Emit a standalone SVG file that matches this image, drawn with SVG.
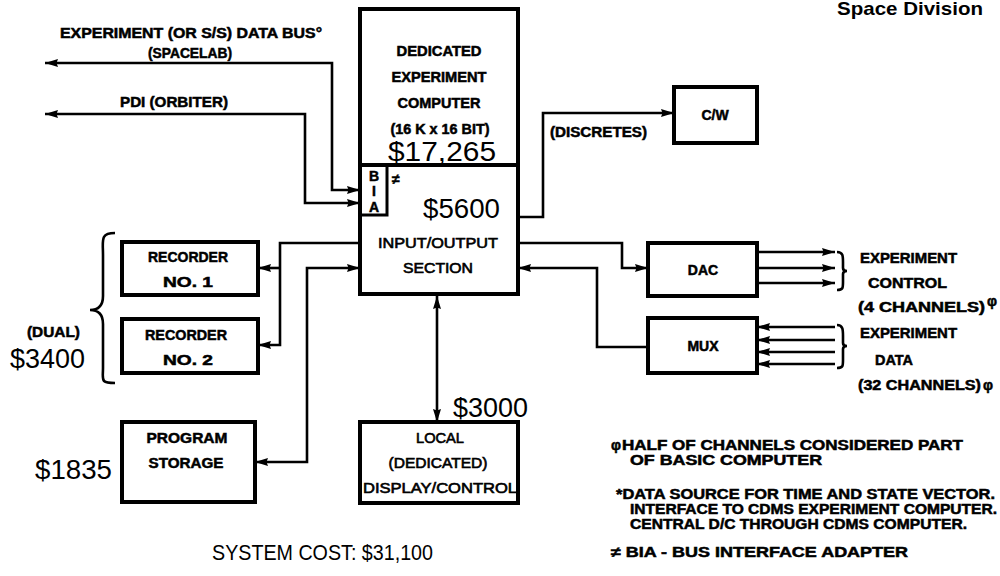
<svg xmlns="http://www.w3.org/2000/svg" width="1000" height="576" viewBox="0 0 1000 576">
<style>
.box{fill:#fff;stroke:#000;stroke-width:4}
.ln{fill:none;stroke:#000;stroke-width:2.6}
.b{font-family:"Liberation Sans",Arial,sans-serif;font-weight:bold;font-size:14px;fill:#000;stroke:#000;stroke-width:0.5}
.m{font-family:"Liberation Sans",Arial,sans-serif;font-weight:normal;font-size:14px;fill:#000;stroke:#000;stroke-width:0.6}
.big{font-family:"Liberation Sans",Arial,sans-serif;font-weight:normal;font-size:28px;fill:#000}
.c{text-anchor:middle}
</style>
<defs>
<marker id="ah" viewBox="0 0 14 10" refX="13" refY="5" markerWidth="14" markerHeight="10" markerUnits="userSpaceOnUse" orient="auto-start-reverse">
<path d="M0,1 L13,5 L0,9 L1.5,5 Z" fill="#000"/>
</marker>
</defs>

<text x="837" y="15" font-family="Liberation Sans,Arial,sans-serif" font-weight="bold" font-size="19" textLength="146" lengthAdjust="spacingAndGlyphs">Space Division</text>

<g id="connectors">
<path class="ln" d="M45,63 H332 V190 H360" marker-start="url(#ah)" marker-end="url(#ah)"/>
<path class="ln" d="M45,114 H305 V203 H360" marker-start="url(#ah)" marker-end="url(#ah)"/>
<path class="ln" d="M258,268 H280" marker-start="url(#ah)"/>
<path class="ln" d="M258,345 H280 V243 H360" marker-start="url(#ah)"/>
<path class="ln" d="M255,462 H307 V268 H360" marker-start="url(#ah)" marker-end="url(#ah)"/>
<path class="ln" d="M437,296 V422" marker-start="url(#ah)" marker-end="url(#ah)"/>
<path class="ln" d="M518,217 H543 V113 H674" marker-end="url(#ah)"/>
<path class="ln" d="M518,243 H622 V268 H648" marker-end="url(#ah)"/>
<path class="ln" d="M648,347 H597 V268 H518" marker-end="url(#ah)"/>
<path class="ln" d="M757,252 H835" marker-end="url(#ah)"/>
<path class="ln" d="M757,268 H835" marker-end="url(#ah)"/>
<path class="ln" d="M757,283 H835" marker-end="url(#ah)"/>
<path class="ln" d="M835,327 H757" marker-end="url(#ah)"/>
<path class="ln" d="M835,340 H757" marker-end="url(#ah)"/>
<path class="ln" d="M835,352 H757" marker-end="url(#ah)"/>
<path class="ln" d="M835,364 H757" marker-end="url(#ah)"/>
</g>

<g id="bus-labels">
<text class="b" x="60" y="38" textLength="262" lengthAdjust="spacingAndGlyphs">EXPERIMENT (OR S/S) DATA BUS°</text>
<text class="b" x="148" y="58" textLength="84" lengthAdjust="spacingAndGlyphs">(SPACELAB)</text>
<text class="b" x="120" y="107" textLength="108" lengthAdjust="spacingAndGlyphs">PDI (ORBITER)</text>
<text class="b" x="550" y="137" textLength="97" lengthAdjust="spacingAndGlyphs">(DISCRETES)</text>
</g>

<g id="computer">
<rect class="box" x="360" y="9" width="158" height="156"/>
<text class="b c" x="439" y="56" textLength="85" lengthAdjust="spacingAndGlyphs">DEDICATED</text>
<text class="b c" x="439" y="82" textLength="95" lengthAdjust="spacingAndGlyphs">EXPERIMENT</text>
<text class="b c" x="439" y="108" textLength="83" lengthAdjust="spacingAndGlyphs">COMPUTER</text>
<text class="b c" x="440" y="134" textLength="99" lengthAdjust="spacingAndGlyphs">(16 K x 16 BIT)</text>
<text class="big c" x="442" y="161" textLength="108" lengthAdjust="spacingAndGlyphs">$17,265</text>
</g>

<g id="io-section">
<rect class="box" x="360" y="165" width="158" height="129"/>
<text class="big" x="423" y="218" textLength="77" lengthAdjust="spacingAndGlyphs">$5600</text>
<text class="m c" x="438" y="248" font-size="15" textLength="120" lengthAdjust="spacingAndGlyphs">INPUT/OUTPUT</text>
<text class="m c" x="438" y="273" font-size="15" textLength="70" lengthAdjust="spacingAndGlyphs">SECTION</text>
</g>

<g id="bia">
<rect x="360" y="165" width="27" height="50" fill="none" stroke="#000" stroke-width="3"/>
<text class="b c" x="374" y="181" font-size="12">B</text>
<text class="b c" x="374" y="196" font-size="12">I</text>
<text class="b c" x="374" y="212" font-size="12">A</text>
<text class="b" x="392" y="184" font-size="15">≠</text>
</g>

<g id="cw">
<rect class="box" x="674" y="87" width="83" height="56"/>
<text class="b c" x="715" y="120">C/W</text>
</g>

<g id="dac">
<rect class="box" x="648" y="243" width="109" height="53"/>
<text class="b c" x="703" y="275">DAC</text>
</g>

<g id="mux">
<rect class="box" x="648" y="318" width="109" height="55"/>
<text class="b c" x="703" y="351">MUX</text>
</g>

<g id="recorder1">
<rect class="box" x="122" y="242" width="136" height="53"/>
<text class="b c" x="188" y="262" textLength="80" lengthAdjust="spacingAndGlyphs">RECORDER</text>
<text class="b c" x="188" y="287" textLength="50" lengthAdjust="spacingAndGlyphs">NO. 1</text>
</g>

<g id="recorder2">
<rect class="box" x="122" y="319" width="136" height="54"/>
<text class="b c" x="186" y="340" textLength="82" lengthAdjust="spacingAndGlyphs">RECORDER</text>
<text class="b c" x="188" y="365" textLength="50" lengthAdjust="spacingAndGlyphs">NO. 2</text>
</g>

<g id="recorder-cost">
<path d="M115,233 C100,233 103,240 103,255 L103,296 C103,306 98,310 90,310 C98,310 103,314 103,324 L103,368 C103,380 100,383 115,383" fill="none" stroke="#000" stroke-width="2.6"/>
<text class="b" x="27" y="337" textLength="53" lengthAdjust="spacingAndGlyphs">(DUAL)</text>
<text class="big" x="10" y="368" textLength="75" lengthAdjust="spacingAndGlyphs">$3400</text>
</g>

<g id="program-storage">
<rect class="box" x="122" y="422" width="133" height="80"/>
<text class="b c" x="187" y="443" textLength="81" lengthAdjust="spacingAndGlyphs">PROGRAM</text>
<text class="b c" x="186" y="468" textLength="75" lengthAdjust="spacingAndGlyphs">STORAGE</text>
<text class="big" x="35" y="479" textLength="77" lengthAdjust="spacingAndGlyphs">$1835</text>
</g>

<g id="local-display">
<rect class="box" x="360" y="422" width="158" height="81"/>
<text class="m c" x="440" y="443" textLength="48" lengthAdjust="spacingAndGlyphs">LOCAL</text>
<text class="m c" x="438" y="468" textLength="99" lengthAdjust="spacingAndGlyphs">(DEDICATED)</text>
<text class="m c" x="440" y="493" textLength="154" lengthAdjust="spacingAndGlyphs">DISPLAY/CONTROL</text>
<text class="big" x="453" y="417" textLength="75" lengthAdjust="spacingAndGlyphs">$3000</text>
</g>

<g id="control-labels">
<path d="M837,252 C843,252 843,256 843,262 L843,268 C843,270 845,271 847,271 C845,271 843,272 843,274 L843,282 C843,288 843,290 837,290" fill="none" stroke="#000" stroke-width="2.6"/>
<text class="b" x="860" y="263" textLength="97" lengthAdjust="spacingAndGlyphs">EXPERIMENT</text>
<text class="b" x="868" y="288" textLength="79" lengthAdjust="spacingAndGlyphs">CONTROL</text>
<text class="b" x="858" y="312" textLength="127" lengthAdjust="spacingAndGlyphs">(4 CHANNELS)</text>
<text class="b" x="987" y="306" font-size="10">φ</text>
</g>

<g id="data-labels">
<path d="M837,325 C843,325 843,330 843,336 L843,343 C843,345 845,346 847,346 C845,346 843,347 843,349 L843,360 C843,366 843,368 837,368" fill="none" stroke="#000" stroke-width="2.6"/>
<text class="b" x="860" y="338" textLength="97" lengthAdjust="spacingAndGlyphs">EXPERIMENT</text>
<text class="b" x="875" y="365" textLength="38" lengthAdjust="spacingAndGlyphs">DATA</text>
<text class="b" x="858" y="390" textLength="123" lengthAdjust="spacingAndGlyphs">(32 CHANNELS)</text>
<text class="b" x="983" y="390" font-size="12">φ</text>
</g>

<g id="notes">
<text class="b" x="611" y="450" font-size="12">φ</text>
<text class="b" x="622" y="450" textLength="341" lengthAdjust="spacingAndGlyphs">HALF OF CHANNELS CONSIDERED PART</text>
<text class="b" x="630" y="465" textLength="192" lengthAdjust="spacingAndGlyphs">OF BASIC COMPUTER</text>
<text class="b" x="616" y="499" textLength="379" lengthAdjust="spacingAndGlyphs">*DATA SOURCE FOR TIME AND STATE VECTOR.</text>
<text class="b" x="630" y="514" textLength="367" lengthAdjust="spacingAndGlyphs">INTERFACE TO CDMS EXPERIMENT COMPUTER.</text>
<text class="b" x="630" y="529" textLength="337" lengthAdjust="spacingAndGlyphs">CENTRAL D/C THROUGH CDMS COMPUTER.</text>
<text class="b" x="611" y="557" textLength="297" lengthAdjust="spacingAndGlyphs">≠ BIA - BUS INTERFACE ADAPTER</text>
</g>

<text x="212" y="560" font-family="Liberation Sans,Arial,sans-serif" font-size="22" textLength="221" lengthAdjust="spacingAndGlyphs">SYSTEM COST: $31,100</text>
</svg>
